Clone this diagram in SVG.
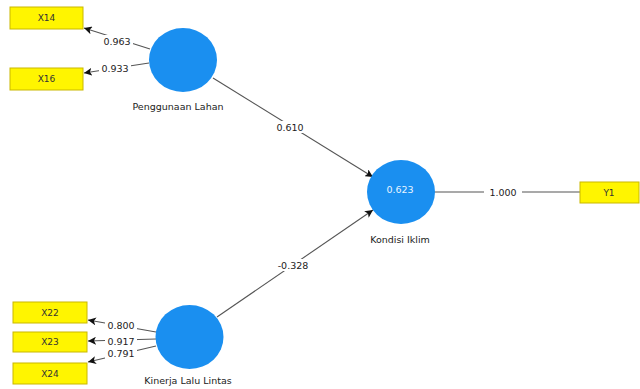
<svg xmlns="http://www.w3.org/2000/svg" width="640" height="389" viewBox="0 0 640 389">
<defs>
<style>
.lv{fill:#1a8ff0;}
.ind{fill:#fff500;stroke:#c9b800;stroke-width:1;}
.t{font-family:"DejaVu Sans","Liberation Sans",sans-serif;font-size:9.5px;fill:#222;text-anchor:middle;dominant-baseline:central;}
.bt{font-family:"DejaVu Sans","Liberation Sans",sans-serif;font-size:9px;fill:#333;text-anchor:middle;dominant-baseline:central;}
.ln{stroke:#555;stroke-width:1.1;fill:none;}
.lb{fill:#fff;}
</style>
<marker id="ah" viewBox="0 0 10 10" refX="10" refY="5" markerWidth="8" markerHeight="8" markerUnits="userSpaceOnUse" orient="auto">
<path d="M0,0 L10,5 L0,10 L2.5,5 z" fill="#111"/>
</marker>
</defs>
<rect width="640" height="389" fill="#fff"/>
<g id="connectors">
<line class="ln" x1="150" y1="49" x2="84" y2="28" marker-end="url(#ah)"/>
<line class="ln" x1="149" y1="63" x2="84" y2="73" marker-end="url(#ah)"/>
<line class="ln" x1="213" y1="78" x2="373" y2="177" marker-end="url(#ah)"/>
<line class="ln" x1="217" y1="317" x2="373" y2="210" marker-end="url(#ah)"/>
<line class="ln" x1="156" y1="332" x2="88" y2="320" marker-end="url(#ah)"/>
<line class="ln" x1="156" y1="339" x2="88" y2="341" marker-end="url(#ah)"/>
<line class="ln" x1="156" y1="346" x2="88" y2="362" marker-end="url(#ah)"/>
<line class="ln" x1="434" y1="192" x2="580" y2="192"/>
<rect class="lb" x="101" y="35" width="32" height="12"/>
<text class="t" x="117" y="41">0.963</text>
<rect class="lb" x="99" y="62" width="32" height="12"/>
<text class="t" x="115" y="68">0.933</text>
<rect class="lb" x="273" y="121" width="34" height="12"/>
<text class="t" x="290" y="127">0.610</text>
<rect class="lb" x="274" y="259" width="38" height="12"/>
<text class="t" x="293" y="265">-0.328</text>
<rect class="lb" x="105" y="319" width="32" height="12"/>
<text class="t" x="121" y="325">0.800</text>
<rect class="lb" x="105" y="335" width="32" height="12"/>
<text class="t" x="121" y="341">0.917</text>
<rect class="lb" x="105" y="347" width="32" height="12"/>
<text class="t" x="121" y="353">0.791</text>
<rect class="lb" x="484" y="186" width="38" height="12"/>
<text class="t" x="503" y="192">1.000</text>
</g>
<g id="X14"><rect class="ind" x="10" y="7" width="73" height="22"/><text class="bt" x="46.5" y="18">X14</text></g>
<g id="X16"><rect class="ind" x="10" y="68" width="73" height="22"/><text class="bt" x="46.5" y="79">X16</text></g>
<g id="X22"><rect class="ind" x="13" y="302" width="74" height="21"/><text class="bt" x="50" y="312.5">X22</text></g>
<g id="X23"><rect class="ind" x="13" y="332" width="74" height="20"/><text class="bt" x="50" y="342">X23</text></g>
<g id="X24"><rect class="ind" x="13" y="363" width="74" height="21"/><text class="bt" x="50" y="373.5">X24</text></g>
<g id="Y1"><rect class="ind" x="580" y="182" width="59" height="21"/><text class="bt" x="609" y="192.5">Y1</text></g>
<g id="PenggunaanLahan"><ellipse class="lv" cx="183" cy="60" rx="34" ry="32"/><text class="t" x="178" y="106">Penggunaan Lahan</text></g>
<g id="KinerjaLaluLintas"><ellipse class="lv" cx="189.5" cy="337" rx="34" ry="32"/><text class="t" x="188" y="380">Kinerja Lalu Lintas</text></g>
<g id="KondisiIklim"><ellipse class="lv" cx="401" cy="192" rx="34" ry="32"/><text class="t" x="400" y="189" style="fill:#e8f4ff">0.623</text><text class="t" x="400" y="239">Kondisi Iklim</text></g>
</svg>
